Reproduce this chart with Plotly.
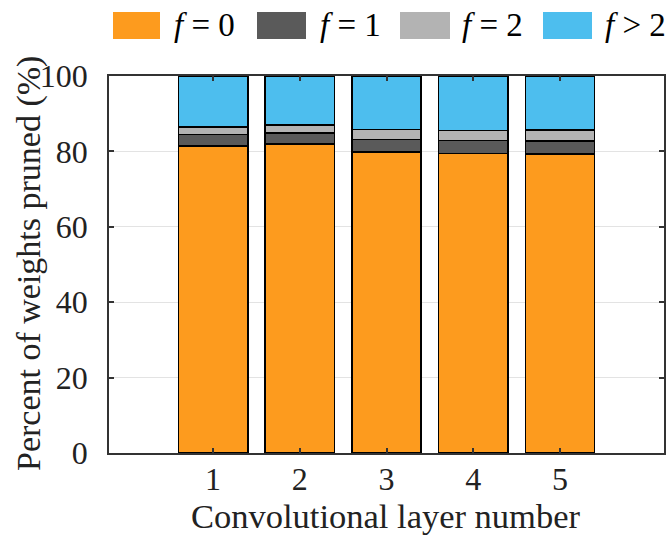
import plotly.graph_objects as go

layers = [1, 2, 3, 4, 5]
layer_labels = ["1", "2", "3", "4", "5"]
f0 = [81.5, 81.9, 79.9, 79.5, 79.3]
f1 = [3.0, 3.0, 3.2, 3.4, 3.4]
f2 = [2.0, 2.1, 2.7, 2.7, 3.0]
fgt2 = [13.5, 13.0, 14.2, 14.4, 14.3]
y_ticks = [0, 20, 40, 60, 80, 100]

series_names = ["<i>f</i> = 0", "<i>f</i> = 1", "<i>f</i> = 2", "<i>f</i> > 2"]
series_vals = [f0, f1, f2, fgt2]
colors = ["#FD9B1E", "#5A5A5A", "#B3B3B3", "#4DBEEE"]

FONT = "Liberation Serif"
fig = go.Figure()
for name, vals, c in zip(series_names, series_vals, colors):
    fig.add_trace(go.Bar(x=layers, y=vals, name=name, width=0.8,
                         marker=dict(color=c, line=dict(color="black", width=1.5)),
                         showlegend=False))

W, H = 666, 535
L, R, T, B = 109, 2, 76, 82
pw, ph = W - L - R, H - T - B

def px(x):
    return (x - L) / pw

def py(y):
    return (H - B - y) / ph

# manual legend (wide swatches)
sw = [(113, 160), (257, 306), (400, 450), (543, 592)]
tx = [172, 318, 460, 603]
shapes = []
annots = []
for (x0, x1), t, name, c in zip(sw, tx, series_names, colors):
    shapes.append(dict(type="rect", xref="paper", yref="paper",
                       x0=px(x0), x1=px(x1), y0=py(39), y1=py(12),
                       fillcolor=c, line=dict(width=0)))
    annots.append(dict(xref="paper", yref="paper", x=px(t), y=py(25),
                       xanchor="left", yanchor="middle", text=name, showarrow=False,
                       font=dict(family=FONT, size=33, color="black")))

# axis titles
annots.append(dict(xref="paper", yref="paper", x=px(386), y=py(515.5),
                   xanchor="center", yanchor="middle", showarrow=False,
                   text="Convolutional layer number",
                   font=dict(family=FONT, size=34.5, color="#222")))
annots.append(dict(xref="paper", yref="paper", x=px(29), y=py(264),
                   xanchor="center", yanchor="middle", showarrow=False, textangle=-90,
                   text="Percent of weights pruned (%)",
                   font=dict(family=FONT, size=34, color="#222")))

fig.update_layout(
    width=W, height=H,
    margin=dict(l=L, r=R, t=T, b=B, autoexpand=False),
    barmode="stack",
    plot_bgcolor="white", paper_bgcolor="white",
    font=dict(family=FONT, size=32, color="#222"),
    shapes=shapes, annotations=annots,
    xaxis=dict(range=[-0.2, 6.2], tickvals=layers, ticktext=layer_labels,
               ticks="inside", ticklen=5, tickcolor="#333", tickwidth=1.5,
               showline=True, linecolor="#333", linewidth=1.5, mirror="ticks",
               showgrid=False, zeroline=False, automargin=False,
               ticklabelstandoff=-3,
               tickfont=dict(family=FONT, size=32, color="#222")),
    yaxis=dict(range=[0, 100], tickvals=y_ticks,
               ticks="inside", ticklen=5, tickcolor="#333", tickwidth=1.5,
               showline=True, linecolor="#333", linewidth=1.5, mirror="ticks",
               showgrid=True, gridcolor="#E3E3E3", gridwidth=1, zeroline=False,
               ticklabelstandoff=13, automargin=False,
               tickfont=dict(family=FONT, size=32, color="#222")),
)
fig.write_html("out.html", config={"displayModeBar": False},
               post_script="document.body.style.margin='0';document.body.style.padding='0';")
